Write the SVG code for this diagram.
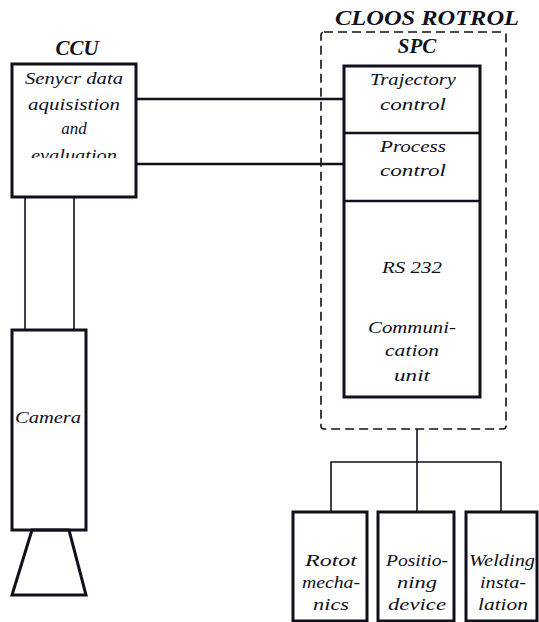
<svg xmlns="http://www.w3.org/2000/svg" width="539" height="622" viewBox="0 0 539 622">
<style>
.box{fill:#fff;stroke:#10101c;stroke-width:3}
.thin{fill:none;stroke:#10101c;stroke-width:1.6}
.line{fill:none;stroke:#10101c;stroke-width:2.4}
.dash{fill:none;stroke:#10101c;stroke-width:1.6;stroke-dasharray:9 5}
text{fill:#10101c;text-anchor:middle}
.t{font-size:17px}
.h{font-size:21px;font-weight:bold}
</style>
<defs>
<clipPath id="ccuclip"><rect x="12" y="64" width="124" height="94"/></clipPath>
</defs>
<rect width="539" height="622" fill="#fff"/>
<g id="connectors">
<line class="line" x1="136" y1="99" x2="344" y2="99"/>
<line class="line" x1="136" y1="164" x2="344" y2="164"/>
<line class="thin" x1="25" y1="197" x2="25" y2="330"/>
<line class="thin" x1="74" y1="197" x2="74" y2="330"/>
<polyline class="thin" points="417,429 417,462"/>
<polyline class="thin" points="331,512 331,462 501,462 501,512"/>
<line class="thin" x1="417" y1="462" x2="417" y2="512"/>
</g>
<g font-family="Liberation Serif, Times New Roman, serif" font-style="italic">
<g id="cloos">
<rect class="dash" x="321" y="32" width="185" height="397" rx="3"/>
<text class="h" x="427" y="25" textLength="184" lengthAdjust="spacingAndGlyphs">CLOOS ROTROL</text>
</g>
<g id="ccu">
<text class="h" x="77" y="55">CCU</text>
<rect class="box" x="12" y="64" width="124" height="133"/>
<g clip-path="url(#ccuclip)">
<text class="t" x="74" y="84" textLength="98" lengthAdjust="spacingAndGlyphs">Senycr data</text>
<text class="t" x="74" y="110" textLength="92" lengthAdjust="spacingAndGlyphs">aquisistion</text>
<text class="t" x="74" y="134">and</text>
<text class="t" x="74" y="161" textLength="86" lengthAdjust="spacingAndGlyphs">evaluation</text>
</g>
</g>
<g id="spc">
<text class="h" x="417" y="53">SPC</text>
<rect class="box" x="344" y="66" width="136" height="331"/>
<line class="line" x1="344" y1="133" x2="480" y2="133"/>
<line class="line" x1="344" y1="201" x2="480" y2="201"/>
</g>
<g id="trajectory">
<text class="t" x="413" y="85" textLength="86" lengthAdjust="spacingAndGlyphs">Trajectory</text>
<text class="t" x="413" y="110" textLength="66" lengthAdjust="spacingAndGlyphs">control</text>
</g>
<g id="process">
<text class="t" x="413" y="152" textLength="66" lengthAdjust="spacingAndGlyphs">Process</text>
<text class="t" x="413" y="176" textLength="66" lengthAdjust="spacingAndGlyphs">control</text>
</g>
<g id="rs232">
<text class="t" x="412" y="273" textLength="60" lengthAdjust="spacingAndGlyphs">RS 232</text>
<text class="t" x="412" y="333" textLength="88" lengthAdjust="spacingAndGlyphs">Communi-</text>
<text class="t" x="412" y="356" textLength="54" lengthAdjust="spacingAndGlyphs">cation</text>
<text class="t" x="412" y="381" textLength="36" lengthAdjust="spacingAndGlyphs">unit</text>
</g>
<g id="camera">
<rect class="box" x="12" y="330" width="74" height="200"/>
<text class="t" x="48" y="423" textLength="66" lengthAdjust="spacingAndGlyphs">Camera</text>
<polygon class="box" points="32,530 69,530 86,595 12,595" style="fill:none"/>
</g>
<g id="robot">
<rect class="box" x="293" y="512" width="74" height="109"/>
<text class="t" x="331" y="566" textLength="52" lengthAdjust="spacingAndGlyphs">Rotot</text>
<text class="t" x="331" y="588" textLength="58" lengthAdjust="spacingAndGlyphs">mecha-</text>
<text class="t" x="331" y="610" textLength="36" lengthAdjust="spacingAndGlyphs">nics</text>
</g>
<g id="positioning">
<rect class="box" x="378" y="512" width="76" height="109"/>
<text class="t" x="417" y="566" textLength="62" lengthAdjust="spacingAndGlyphs">Positio-</text>
<text class="t" x="417" y="588" textLength="40" lengthAdjust="spacingAndGlyphs">ning</text>
<text class="t" x="417" y="610" textLength="58" lengthAdjust="spacingAndGlyphs">device</text>
</g>
<g id="welding">
<rect class="box" x="466" y="512" width="71" height="109"/>
<text class="t" x="502" y="566" textLength="66" lengthAdjust="spacingAndGlyphs">Welding</text>
<text class="t" x="503" y="588" textLength="46" lengthAdjust="spacingAndGlyphs">insta-</text>
<text class="t" x="503" y="610" textLength="50" lengthAdjust="spacingAndGlyphs">lation</text>
</g>
</g>
</svg>
